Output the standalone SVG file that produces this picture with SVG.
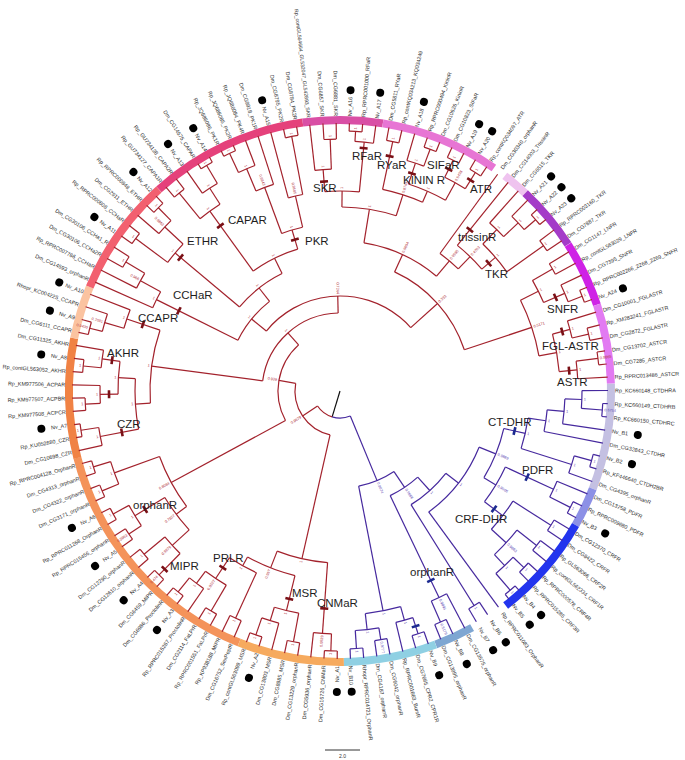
<svg xmlns="http://www.w3.org/2000/svg" width="685" height="760" viewBox="0 0 685 760">
<style>
.br{fill:none;stroke:#a3222c;stroke-width:1.2}
.bb{fill:none;stroke:#46299e;stroke-width:1.2}
.rg{fill:none;stroke-width:8}
.lv text{font-family:"Liberation Sans",Arial,sans-serif;font-size:5.4px;fill:#2b2b2b;dominant-baseline:central}
.f{text-anchor:end}
.lv circle{fill:#000}
.cl{font-family:"Liberation Sans",Arial,sans-serif;font-size:11.5px;fill:#1e1e1e}
.mr line{stroke:#7a1016;stroke-width:2.6}
.mb line{stroke:#1c2a90;stroke-width:2.6}
.sv text{font-family:"Liberation Sans",Arial,sans-serif;font-size:3.8px;fill:#b0303a;dominant-baseline:central}
.sb text{font-family:"Liberation Sans",Arial,sans-serif;font-size:3.8px;fill:#5b47b3;dominant-baseline:central}
</style>
<rect width="685" height="760" fill="#fff"/>
<g transform="translate(340 391)">
<g id="ring">
<circle class="rg" r="271" pathLength="360" stroke="#f6aa5e" stroke-dasharray="22.68 400" transform="rotate(89.18)"/>
<circle class="rg" r="271" pathLength="360" stroke="#f4935a" stroke-dasharray="53.86 400" transform="rotate(111.86)"/>
<circle class="rg" r="271" pathLength="360" stroke="#f08244" stroke-dasharray="25.51 400" transform="rotate(165.71)"/>
<circle class="rg" r="271" pathLength="360" stroke="#fbc3a0" stroke-dasharray="11.34 400" transform="rotate(191.23)"/>
<circle class="rg" r="271" pathLength="360" stroke="#f2606f" stroke-dasharray="25.51 400" transform="rotate(202.56)"/>
<circle class="rg" r="271" pathLength="360" stroke="#e5417b" stroke-dasharray="34.02 400" transform="rotate(228.08)"/>
<circle class="rg" r="271" pathLength="360" stroke="#d94fa5" stroke-dasharray="17.01 400" transform="rotate(262.09)"/>
<circle class="rg" r="271" pathLength="360" stroke="#e775d4" stroke-dasharray="25.51 400" transform="rotate(279.10)"/>
<circle class="rg" r="271" pathLength="360" stroke="#efc3ef" stroke-dasharray="5.67 400" transform="rotate(307.44)"/>
<circle class="rg" r="271" pathLength="360" stroke="#a43bc8" stroke-dasharray="14.17 400" transform="rotate(313.11)"/>
<circle class="rg" r="271" pathLength="360" stroke="#cf22e6" stroke-dasharray="14.17 400" transform="rotate(327.29)"/>
<circle class="rg" r="271" pathLength="360" stroke="#e27af2" stroke-dasharray="17.01 400" transform="rotate(341.46)"/>
<circle class="rg" r="271" pathLength="360" stroke="#c4c0e2" stroke-dasharray="22.68 400" transform="rotate(358.47)"/>
<circle class="rg" r="271" pathLength="360" stroke="#8c90e6" stroke-dasharray="8.50 400" transform="rotate(21.15)"/>
<circle class="rg" r="271" pathLength="360" stroke="#2234ee" stroke-dasharray="22.68 400" transform="rotate(29.65)"/>
<circle class="rg" r="271" pathLength="360" stroke="#7ea6d2" stroke-dasharray="8.50 400" transform="rotate(60.83)"/>
<circle class="rg" r="271" pathLength="360" stroke="#8fd0e3" stroke-dasharray="19.84 400" transform="rotate(69.34)"/>
</g>
<g id="connectors">
<line x1="0" x2="27" stroke="#111" stroke-width="1.2" transform="rotate(106.915)"/>
<g class="br">
<circle r="27" pathLength="360" stroke-dasharray="39.38 400" transform="rotate(106.915)"/>
<circle r="45" pathLength="360" stroke-dasharray="87.03 400" transform="rotate(102.78)"/>
<circle r="62" pathLength="360" stroke-dasharray="76.525 400" transform="rotate(151.55)"/>
<circle r="78" pathLength="360" stroke-dasharray="81.13 400" transform="rotate(187.51)"/>
<circle r="95" pathLength="360" stroke-dasharray="98.98 400" transform="rotate(219.15)"/>
<circle r="114" pathLength="360" stroke-dasharray="25.38 400" transform="rotate(206.46)"/>
<circle r="131" pathLength="360" stroke-dasharray="23.825 400" transform="rotate(219.93)"/>
<circle r="148" pathLength="360" stroke-dasharray="19.31 400" transform="rotate(234.1)"/>
<circle r="168" pathLength="360" stroke-dasharray="7.445 400" transform="rotate(249.69)"/>
<circle r="217" pathLength="360" stroke-dasharray="4.96 400" transform="rotate(247.21)"/>
<circle r="241" pathLength="360" stroke-dasharray="4.255 400" transform="rotate(245.085)"/>
<circle r="262" pathLength="360" stroke-dasharray="2.83 400" transform="rotate(243.67)"/>
<circle r="200" pathLength="360" stroke-dasharray="4.25 400" transform="rotate(255.01)"/>
<circle r="259" pathLength="360" stroke-dasharray="2.84 400" transform="rotate(257.84)"/>
<circle r="222" pathLength="360" stroke-dasharray="6.375 400" transform="rotate(230.915)"/>
<circle r="255" pathLength="360" stroke-dasharray="2.83 400" transform="rotate(229.50)"/>
<circle r="241" pathLength="360" stroke-dasharray="4.255 400" transform="rotate(235.16)"/>
<circle r="262" pathLength="360" stroke-dasharray="2.83 400" transform="rotate(238.00)"/>
<circle r="215" pathLength="360" stroke-dasharray="6.38 400" transform="rotate(216.74)"/>
<circle r="255" pathLength="360" stroke-dasharray="2.84 400" transform="rotate(215.32)"/>
<circle r="240" pathLength="360" stroke-dasharray="4.255 400" transform="rotate(220.99)"/>
<circle r="258" pathLength="360" stroke-dasharray="2.83 400" transform="rotate(223.83)"/>
<circle r="205" pathLength="360" stroke-dasharray="4.965 400" transform="rotate(203.98)"/>
<circle r="228" pathLength="360" stroke-dasharray="4.25 400" transform="rotate(206.82)"/>
<circle r="250" pathLength="360" stroke-dasharray="2.84 400" transform="rotate(209.65)"/>
<circle r="131" pathLength="360" stroke-dasharray="47.015 400" transform="rotate(294.625)"/>
<circle r="150" pathLength="360" stroke-dasharray="30.87 400" transform="rotate(279.19)"/>
<circle r="184" pathLength="360" stroke-dasharray="17.18 400" transform="rotate(270.6)"/>
<circle r="200" pathLength="360" stroke-dasharray="9.915 400" transform="rotate(265.64)"/>
<circle r="222" pathLength="360" stroke-dasharray="4.255 400" transform="rotate(263.51)"/>
<circle r="252" pathLength="360" stroke-dasharray="2.83 400" transform="rotate(266.35)"/>
<circle r="250" pathLength="360" stroke-dasharray="4.25 400" transform="rotate(273.43)"/>
<circle r="260" pathLength="360" stroke-dasharray="2.84 400" transform="rotate(272.01)"/>
<circle r="206" pathLength="360" stroke-dasharray="11.695 400" transform="rotate(281.935)"/>
<circle r="255" pathLength="360" stroke-dasharray="2.83 400" transform="rotate(280.52)"/>
<circle r="218" pathLength="360" stroke-dasharray="10.63 400" transform="rotate(288.315)"/>
<circle r="240" pathLength="360" stroke-dasharray="4.25 400" transform="rotate(286.19)"/>
<circle r="258" pathLength="360" stroke-dasharray="2.84 400" transform="rotate(289.02)"/>
<circle r="238" pathLength="360" stroke-dasharray="5.67 400" transform="rotate(296.11)"/>
<circle r="257" pathLength="360" stroke-dasharray="2.84 400" transform="rotate(294.69)"/>
<circle r="257" pathLength="360" stroke-dasharray="2.84 400" transform="rotate(300.36)"/>
<circle r="170" pathLength="360" stroke-dasharray="8.06 400" transform="rotate(306.03)"/>
<circle r="187" pathLength="360" stroke-dasharray="10.46 400" transform="rotate(308.86)"/>
<circle r="205" pathLength="360" stroke-dasharray="10.275 400" transform="rotate(314.18)"/>
<circle r="225" pathLength="360" stroke-dasharray="4.96 400" transform="rotate(311.70)"/>
<circle r="245" pathLength="360" stroke-dasharray="4.255 400" transform="rotate(314.53)"/>
<circle r="260" pathLength="360" stroke-dasharray="2.83 400" transform="rotate(317.37)"/>
<circle r="250" pathLength="360" stroke-dasharray="2.83 400" transform="rotate(323.04)"/>
<circle r="202" pathLength="360" stroke-dasharray="16.65 400" transform="rotate(333.315)"/>
<circle r="222" pathLength="360" stroke-dasharray="6.38 400" transform="rotate(330.125)"/>
<circle r="245" pathLength="360" stroke-dasharray="2.83 400" transform="rotate(328.71)"/>
<circle r="245" pathLength="360" stroke-dasharray="4.25 400" transform="rotate(334.38)"/>
<circle r="260" pathLength="360" stroke-dasharray="2.84 400" transform="rotate(337.21)"/>
<circle r="220" pathLength="360" stroke-dasharray="9.92 400" transform="rotate(345.005)"/>
<circle r="238" pathLength="360" stroke-dasharray="4.25 400" transform="rotate(342.88)"/>
<circle r="255" pathLength="360" stroke-dasharray="2.84 400" transform="rotate(345.71)"/>
<circle r="238" pathLength="360" stroke-dasharray="4.25 400" transform="rotate(352.8)"/>
<circle r="260" pathLength="360" stroke-dasharray="2.84 400" transform="rotate(351.38)"/>
<circle r="190" pathLength="360" stroke-dasharray="22.32 400" transform="rotate(176.35)"/>
<circle r="225" pathLength="360" stroke-dasharray="4.95 400" transform="rotate(196.2)"/>
<circle r="245" pathLength="360" stroke-dasharray="4.25 400" transform="rotate(194.07)"/>
<circle r="258" pathLength="360" stroke-dasharray="2.83 400" transform="rotate(192.65)"/>
<circle r="205" pathLength="360" stroke-dasharray="14.18 400" transform="rotate(169.26)"/>
<circle r="222" pathLength="360" stroke-dasharray="8.5 400" transform="rotate(179.19)"/>
<circle r="240" pathLength="360" stroke-dasharray="4.25 400" transform="rotate(185.56)"/>
<circle r="258" pathLength="360" stroke-dasharray="2.84 400" transform="rotate(184.14)"/>
<circle r="240" pathLength="360" stroke-dasharray="4.25 400" transform="rotate(177.06)"/>
<circle r="255" pathLength="360" stroke-dasharray="2.83 400" transform="rotate(175.64)"/>
<circle r="244" pathLength="360" stroke-dasharray="4.26 400" transform="rotate(167.13)"/>
<circle r="262" pathLength="360" stroke-dasharray="2.83 400" transform="rotate(169.97)"/>
<circle r="192" pathLength="360" stroke-dasharray="17.01 400" transform="rotate(143.04)"/>
<circle r="240" pathLength="360" stroke-dasharray="5.67 400" transform="rotate(157.215)"/>
<circle r="258" pathLength="360" stroke-dasharray="2.83 400" transform="rotate(155.80)"/>
<circle r="258" pathLength="360" stroke-dasharray="2.83 400" transform="rotate(161.47)"/>
<circle r="205" pathLength="360" stroke-dasharray="11.34 400" transform="rotate(137.37)"/>
<circle r="240" pathLength="360" stroke-dasharray="5.67 400" transform="rotate(145.875)"/>
<circle r="255" pathLength="360" stroke-dasharray="2.83 400" transform="rotate(144.46)"/>
<circle r="258" pathLength="360" stroke-dasharray="2.83 400" transform="rotate(150.13)"/>
<circle r="228" pathLength="360" stroke-dasharray="5.67 400" transform="rotate(134.535)"/>
<circle r="258" pathLength="360" stroke-dasharray="2.83 400" transform="rotate(133.12)"/>
<circle r="255" pathLength="360" stroke-dasharray="2.83 400" transform="rotate(138.79)"/>
<circle r="172" pathLength="360" stroke-dasharray="17.28 400" transform="rotate(94.14)"/>
<circle r="243" pathLength="360" stroke-dasharray="4.255 400" transform="rotate(92.015)"/>
<circle r="260" pathLength="360" stroke-dasharray="2.83 400" transform="rotate(90.60)"/>
<circle r="190" pathLength="360" stroke-dasharray="15.41 400" transform="rotate(103.71)"/>
<circle r="226" pathLength="360" stroke-dasharray="6.38 400" transform="rotate(100.52)"/>
<circle r="255" pathLength="360" stroke-dasharray="2.84 400" transform="rotate(99.10)"/>
<circle r="240" pathLength="360" stroke-dasharray="4.255 400" transform="rotate(104.77)"/>
<circle r="258" pathLength="360" stroke-dasharray="2.83 400" transform="rotate(107.61)"/>
<circle r="200" pathLength="360" stroke-dasharray="8.855 400" transform="rotate(114.695)"/>
<circle r="250" pathLength="360" stroke-dasharray="2.83 400" transform="rotate(113.28)"/>
<circle r="225" pathLength="360" stroke-dasharray="6.375 400" transform="rotate(120.365)"/>
<circle r="255" pathLength="360" stroke-dasharray="2.83 400" transform="rotate(118.95)"/>
<circle r="240" pathLength="360" stroke-dasharray="4.245 400" transform="rotate(124.62)"/>
<circle r="258" pathLength="360" stroke-dasharray="2.83 400" transform="rotate(127.45)"/>
<line x1="27" x2="45" transform="rotate(146.295)"/>
<line x1="45" x2="172" transform="rotate(102.78)"/>
<line x1="45" x2="62" transform="rotate(189.81)"/>
<line x1="62" x2="192" transform="rotate(151.55)"/>
<line x1="62" x2="78" transform="rotate(228.075)"/>
<line x1="78" x2="190" transform="rotate(187.51)"/>
<line x1="78" x2="95" transform="rotate(268.64)"/>
<line x1="95" x2="114" transform="rotate(219.15)"/>
<line x1="95" x2="131" transform="rotate(318.13)"/>
<line x1="114" x2="205" transform="rotate(206.46)"/>
<line x1="114" x2="131" transform="rotate(231.84)"/>
<line x1="131" x2="215" transform="rotate(219.93)"/>
<line x1="131" x2="148" transform="rotate(243.755)"/>
<line x1="148" x2="222" transform="rotate(234.1)"/>
<line x1="148" x2="168" transform="rotate(253.41)"/>
<line x1="168" x2="217" transform="rotate(249.69)"/>
<line x1="168" x2="200" transform="rotate(257.135)"/>
<line x1="217" x2="241" transform="rotate(247.21)"/>
<line x1="217" x2="268" transform="rotate(252.17)"/>
<line x1="241" x2="262" transform="rotate(245.085)"/>
<line x1="241" x2="268" transform="rotate(249.34)"/>
<line x1="262" x2="268" transform="rotate(243.67)"/>
<line x1="262" x2="268" transform="rotate(246.50)"/>
<line x1="200" x2="268" transform="rotate(255.01)"/>
<line x1="200" x2="259" transform="rotate(259.26)"/>
<line x1="259" x2="268" transform="rotate(257.84)"/>
<line x1="259" x2="268" transform="rotate(260.68)"/>
<line x1="222" x2="255" transform="rotate(230.915)"/>
<line x1="222" x2="241" transform="rotate(237.29)"/>
<line x1="255" x2="268" transform="rotate(229.50)"/>
<line x1="255" x2="268" transform="rotate(232.33)"/>
<line x1="241" x2="268" transform="rotate(235.16)"/>
<line x1="241" x2="262" transform="rotate(239.415)"/>
<line x1="262" x2="268" transform="rotate(238.00)"/>
<line x1="262" x2="268" transform="rotate(240.83)"/>
<line x1="215" x2="255" transform="rotate(216.74)"/>
<line x1="215" x2="240" transform="rotate(223.12)"/>
<line x1="255" x2="268" transform="rotate(215.32)"/>
<line x1="255" x2="268" transform="rotate(218.16)"/>
<line x1="240" x2="268" transform="rotate(220.99)"/>
<line x1="240" x2="258" transform="rotate(225.245)"/>
<line x1="258" x2="268" transform="rotate(223.83)"/>
<line x1="258" x2="268" transform="rotate(226.66)"/>
<line x1="205" x2="268" transform="rotate(203.98)"/>
<line x1="205" x2="228" transform="rotate(208.945)"/>
<line x1="228" x2="268" transform="rotate(206.82)"/>
<line x1="228" x2="250" transform="rotate(211.07)"/>
<line x1="250" x2="268" transform="rotate(209.65)"/>
<line x1="250" x2="268" transform="rotate(212.49)"/>
<line x1="131" x2="150" transform="rotate(294.625)"/>
<line x1="131" x2="202" transform="rotate(341.64)"/>
<line x1="150" x2="184" transform="rotate(279.19)"/>
<line x1="150" x2="170" transform="rotate(310.06)"/>
<line x1="184" x2="200" transform="rotate(270.6)"/>
<line x1="184" x2="206" transform="rotate(287.78)"/>
<line x1="200" x2="222" transform="rotate(265.64)"/>
<line x1="200" x2="250" transform="rotate(275.555)"/>
<line x1="222" x2="268" transform="rotate(263.51)"/>
<line x1="222" x2="252" transform="rotate(267.765)"/>
<line x1="252" x2="268" transform="rotate(266.35)"/>
<line x1="252" x2="268" transform="rotate(269.18)"/>
<line x1="250" x2="260" transform="rotate(273.43)"/>
<line x1="250" x2="268" transform="rotate(277.68)"/>
<line x1="260" x2="268" transform="rotate(272.01)"/>
<line x1="260" x2="268" transform="rotate(274.85)"/>
<line x1="206" x2="255" transform="rotate(281.935)"/>
<line x1="206" x2="218" transform="rotate(293.63)"/>
<line x1="255" x2="268" transform="rotate(280.52)"/>
<line x1="255" x2="268" transform="rotate(283.35)"/>
<line x1="218" x2="240" transform="rotate(288.315)"/>
<line x1="218" x2="238" transform="rotate(298.945)"/>
<line x1="240" x2="268" transform="rotate(286.19)"/>
<line x1="240" x2="258" transform="rotate(290.44)"/>
<line x1="258" x2="268" transform="rotate(289.02)"/>
<line x1="258" x2="268" transform="rotate(291.86)"/>
<line x1="238" x2="257" transform="rotate(296.11)"/>
<line x1="238" x2="257" transform="rotate(301.78)"/>
<line x1="257" x2="268" transform="rotate(294.69)"/>
<line x1="257" x2="268" transform="rotate(297.53)"/>
<line x1="257" x2="268" transform="rotate(300.36)"/>
<line x1="257" x2="268" transform="rotate(303.20)"/>
<line x1="170" x2="268" transform="rotate(306.03)"/>
<line x1="170" x2="187" transform="rotate(314.09)"/>
<line x1="187" x2="268" transform="rotate(308.86)"/>
<line x1="187" x2="205" transform="rotate(319.32)"/>
<line x1="205" x2="225" transform="rotate(314.18)"/>
<line x1="205" x2="250" transform="rotate(324.455)"/>
<line x1="225" x2="268" transform="rotate(311.70)"/>
<line x1="225" x2="245" transform="rotate(316.66)"/>
<line x1="245" x2="268" transform="rotate(314.53)"/>
<line x1="245" x2="260" transform="rotate(318.785)"/>
<line x1="260" x2="268" transform="rotate(317.37)"/>
<line x1="260" x2="268" transform="rotate(320.20)"/>
<line x1="250" x2="268" transform="rotate(323.04)"/>
<line x1="250" x2="268" transform="rotate(325.87)"/>
<line x1="202" x2="222" transform="rotate(333.315)"/>
<line x1="202" x2="220" transform="rotate(349.965)"/>
<line x1="222" x2="245" transform="rotate(330.125)"/>
<line x1="222" x2="245" transform="rotate(336.505)"/>
<line x1="245" x2="268" transform="rotate(328.71)"/>
<line x1="245" x2="268" transform="rotate(331.54)"/>
<line x1="245" x2="268" transform="rotate(334.38)"/>
<line x1="245" x2="260" transform="rotate(338.63)"/>
<line x1="260" x2="268" transform="rotate(337.21)"/>
<line x1="260" x2="268" transform="rotate(340.05)"/>
<line x1="220" x2="238" transform="rotate(345.005)"/>
<line x1="220" x2="238" transform="rotate(354.925)"/>
<line x1="238" x2="268" transform="rotate(342.88)"/>
<line x1="238" x2="255" transform="rotate(347.13)"/>
<line x1="255" x2="268" transform="rotate(345.71)"/>
<line x1="255" x2="268" transform="rotate(348.55)"/>
<line x1="238" x2="260" transform="rotate(352.8)"/>
<line x1="238" x2="268" transform="rotate(357.05)"/>
<line x1="260" x2="268" transform="rotate(351.38)"/>
<line x1="260" x2="268" transform="rotate(354.22)"/>
<line x1="190" x2="225" transform="rotate(198.67)"/>
<line x1="190" x2="205" transform="rotate(176.35)"/>
<line x1="225" x2="245" transform="rotate(196.2)"/>
<line x1="225" x2="268" transform="rotate(201.15)"/>
<line x1="245" x2="258" transform="rotate(194.07)"/>
<line x1="245" x2="268" transform="rotate(198.32)"/>
<line x1="258" x2="268" transform="rotate(192.65)"/>
<line x1="258" x2="268" transform="rotate(195.48)"/>
<line x1="205" x2="222" transform="rotate(183.44)"/>
<line x1="205" x2="244" transform="rotate(169.26)"/>
<line x1="222" x2="240" transform="rotate(187.69)"/>
<line x1="222" x2="240" transform="rotate(179.19)"/>
<line x1="240" x2="258" transform="rotate(185.56)"/>
<line x1="240" x2="268" transform="rotate(189.81)"/>
<line x1="258" x2="268" transform="rotate(184.14)"/>
<line x1="258" x2="268" transform="rotate(186.98)"/>
<line x1="240" x2="255" transform="rotate(177.06)"/>
<line x1="240" x2="268" transform="rotate(181.31)"/>
<line x1="255" x2="268" transform="rotate(175.64)"/>
<line x1="255" x2="268" transform="rotate(178.47)"/>
<line x1="244" x2="268" transform="rotate(167.13)"/>
<line x1="244" x2="262" transform="rotate(171.39)"/>
<line x1="262" x2="268" transform="rotate(169.97)"/>
<line x1="262" x2="268" transform="rotate(172.80)"/>
<line x1="192" x2="240" transform="rotate(160.05)"/>
<line x1="192" x2="205" transform="rotate(143.04)"/>
<line x1="240" x2="258" transform="rotate(157.215)"/>
<line x1="240" x2="258" transform="rotate(162.885)"/>
<line x1="258" x2="268" transform="rotate(155.80)"/>
<line x1="258" x2="268" transform="rotate(158.63)"/>
<line x1="258" x2="268" transform="rotate(161.47)"/>
<line x1="258" x2="268" transform="rotate(164.30)"/>
<line x1="205" x2="240" transform="rotate(148.71)"/>
<line x1="205" x2="228" transform="rotate(137.37)"/>
<line x1="240" x2="255" transform="rotate(145.875)"/>
<line x1="240" x2="258" transform="rotate(151.545)"/>
<line x1="255" x2="268" transform="rotate(144.46)"/>
<line x1="255" x2="268" transform="rotate(147.29)"/>
<line x1="258" x2="268" transform="rotate(150.13)"/>
<line x1="258" x2="268" transform="rotate(152.96)"/>
<line x1="228" x2="258" transform="rotate(134.535)"/>
<line x1="228" x2="255" transform="rotate(140.205)"/>
<line x1="258" x2="268" transform="rotate(133.12)"/>
<line x1="258" x2="268" transform="rotate(135.95)"/>
<line x1="255" x2="268" transform="rotate(138.79)"/>
<line x1="255" x2="268" transform="rotate(141.62)"/>
<line x1="172" x2="243" transform="rotate(94.14)"/>
<line x1="172" x2="190" transform="rotate(111.42)"/>
<line x1="243" x2="260" transform="rotate(92.015)"/>
<line x1="243" x2="268" transform="rotate(96.27)"/>
<line x1="260" x2="268" transform="rotate(90.60)"/>
<line x1="260" x2="268" transform="rotate(93.43)"/>
<line x1="190" x2="226" transform="rotate(103.71)"/>
<line x1="190" x2="200" transform="rotate(119.12)"/>
<line x1="226" x2="255" transform="rotate(100.52)"/>
<line x1="226" x2="240" transform="rotate(106.9)"/>
<line x1="255" x2="268" transform="rotate(99.10)"/>
<line x1="255" x2="268" transform="rotate(101.94)"/>
<line x1="240" x2="268" transform="rotate(104.77)"/>
<line x1="240" x2="258" transform="rotate(109.025)"/>
<line x1="258" x2="268" transform="rotate(107.61)"/>
<line x1="258" x2="268" transform="rotate(110.44)"/>
<line x1="200" x2="250" transform="rotate(114.695)"/>
<line x1="200" x2="225" transform="rotate(123.55)"/>
<line x1="250" x2="268" transform="rotate(113.28)"/>
<line x1="250" x2="268" transform="rotate(116.11)"/>
<line x1="225" x2="255" transform="rotate(120.365)"/>
<line x1="225" x2="240" transform="rotate(126.74)"/>
<line x1="255" x2="268" transform="rotate(118.95)"/>
<line x1="255" x2="268" transform="rotate(121.78)"/>
<line x1="240" x2="268" transform="rotate(124.62)"/>
<line x1="240" x2="258" transform="rotate(128.865)"/>
<line x1="258" x2="268" transform="rotate(127.45)"/>
<line x1="258" x2="268" transform="rotate(130.28)"/>
</g>
<g class="bb">
<circle r="27" pathLength="360" stroke-dasharray="39.38 400" transform="rotate(67.535)"/>
<circle r="97" pathLength="360" stroke-dasharray="22.75 400" transform="rotate(56.16)"/>
<circle r="224" pathLength="360" stroke-dasharray="9.215 400" transform="rotate(74.3)"/>
<circle r="240" pathLength="360" stroke-dasharray="5.67 400" transform="rotate(80.68)"/>
<circle r="258" pathLength="360" stroke-dasharray="2.84 400" transform="rotate(84.93)"/>
<circle r="252" pathLength="360" stroke-dasharray="2.84 400" transform="rotate(79.26)"/>
<circle r="238" pathLength="360" stroke-dasharray="4.255 400" transform="rotate(72.175)"/>
<circle r="255" pathLength="360" stroke-dasharray="2.83 400" transform="rotate(70.76)"/>
<circle r="116" pathLength="360" stroke-dasharray="16.44 400" transform="rotate(47.94)"/>
<circle r="229" pathLength="360" stroke-dasharray="4.255 400" transform="rotate(62.25)"/>
<circle r="252" pathLength="360" stroke-dasharray="2.83 400" transform="rotate(65.09)"/>
<circle r="134" pathLength="360" stroke-dasharray="20.13 400" transform="rotate(37.87)"/>
<circle r="253" pathLength="360" stroke-dasharray="2.84 400" transform="rotate(56.58)"/>
<circle r="150" pathLength="360" stroke-dasharray="31.76 400" transform="rotate(21.99)"/>
<circle r="168" pathLength="360" stroke-dasharray="18.16 400" transform="rotate(12.91)"/>
<circle r="190" pathLength="360" stroke-dasharray="9.39 400" transform="rotate(8.215)"/>
<circle r="208" pathLength="360" stroke-dasharray="6.03 400" transform="rotate(5.2)"/>
<circle r="225" pathLength="360" stroke-dasharray="6.375 400" transform="rotate(2.015)"/>
<circle r="242" pathLength="360" stroke-dasharray="4.25 400" transform="rotate(-0.11)"/>
<circle r="263" pathLength="360" stroke-dasharray="2.84 400" transform="rotate(2.72)"/>
<circle r="243" pathLength="360" stroke-dasharray="4.25 400" transform="rotate(15.48)"/>
<circle r="261" pathLength="360" stroke-dasharray="2.84 400" transform="rotate(14.06)"/>
<circle r="182" pathLength="360" stroke-dasharray="12.755 400" transform="rotate(24.695)"/>
<circle r="235" pathLength="360" stroke-dasharray="4.25 400" transform="rotate(22.57)"/>
<circle r="258" pathLength="360" stroke-dasharray="2.84 400" transform="rotate(25.40)"/>
<circle r="205" pathLength="360" stroke-dasharray="9.92 400" transform="rotate(32.49)"/>
<circle r="250" pathLength="360" stroke-dasharray="2.84 400" transform="rotate(31.07)"/>
<circle r="225" pathLength="360" stroke-dasharray="8.505 400" transform="rotate(38.16)"/>
<circle r="250" pathLength="360" stroke-dasharray="2.84 400" transform="rotate(36.74)"/>
<circle r="240" pathLength="360" stroke-dasharray="5.67 400" transform="rotate(43.83)"/>
<circle r="255" pathLength="360" stroke-dasharray="2.84 400" transform="rotate(42.41)"/>
<circle r="262" pathLength="360" stroke-dasharray="2.84 400" transform="rotate(48.08)"/>
<line x1="27" x2="97" transform="rotate(67.535)"/>
<line x1="97" x2="224" transform="rotate(78.91)"/>
<line x1="97" x2="116" transform="rotate(56.16)"/>
<line x1="224" x2="240" transform="rotate(83.515)"/>
<line x1="224" x2="238" transform="rotate(74.3)"/>
<line x1="240" x2="258" transform="rotate(86.35)"/>
<line x1="240" x2="252" transform="rotate(80.68)"/>
<line x1="258" x2="268" transform="rotate(84.93)"/>
<line x1="258" x2="268" transform="rotate(87.77)"/>
<line x1="252" x2="268" transform="rotate(79.26)"/>
<line x1="252" x2="268" transform="rotate(82.10)"/>
<line x1="238" x2="268" transform="rotate(76.43)"/>
<line x1="238" x2="255" transform="rotate(72.175)"/>
<line x1="255" x2="268" transform="rotate(70.76)"/>
<line x1="255" x2="268" transform="rotate(73.59)"/>
<line x1="116" x2="229" transform="rotate(64.38)"/>
<line x1="116" x2="134" transform="rotate(47.94)"/>
<line x1="229" x2="268" transform="rotate(62.25)"/>
<line x1="229" x2="252" transform="rotate(66.505)"/>
<line x1="252" x2="268" transform="rotate(65.09)"/>
<line x1="252" x2="268" transform="rotate(67.92)"/>
<line x1="134" x2="253" transform="rotate(58.0)"/>
<line x1="134" x2="150" transform="rotate(37.87)"/>
<line x1="253" x2="268" transform="rotate(56.58)"/>
<line x1="253" x2="268" transform="rotate(59.42)"/>
<line x1="150" x2="168" transform="rotate(21.99)"/>
<line x1="150" x2="268" transform="rotate(53.75)"/>
<line x1="168" x2="190" transform="rotate(12.91)"/>
<line x1="168" x2="182" transform="rotate(31.07)"/>
<line x1="190" x2="208" transform="rotate(8.215)"/>
<line x1="190" x2="243" transform="rotate(17.605)"/>
<line x1="208" x2="225" transform="rotate(5.2)"/>
<line x1="208" x2="268" transform="rotate(11.23)"/>
<line x1="225" x2="242" transform="rotate(2.015)"/>
<line x1="225" x2="268" transform="rotate(8.39)"/>
<line x1="242" x2="268" transform="rotate(-0.11)"/>
<line x1="242" x2="263" transform="rotate(4.14)"/>
<line x1="263" x2="268" transform="rotate(2.72)"/>
<line x1="263" x2="268" transform="rotate(5.56)"/>
<line x1="243" x2="261" transform="rotate(15.48)"/>
<line x1="243" x2="268" transform="rotate(19.73)"/>
<line x1="261" x2="268" transform="rotate(14.06)"/>
<line x1="261" x2="268" transform="rotate(16.90)"/>
<line x1="182" x2="235" transform="rotate(24.695)"/>
<line x1="182" x2="205" transform="rotate(37.45)"/>
<line x1="235" x2="268" transform="rotate(22.57)"/>
<line x1="235" x2="258" transform="rotate(26.82)"/>
<line x1="258" x2="268" transform="rotate(25.40)"/>
<line x1="258" x2="268" transform="rotate(28.24)"/>
<line x1="205" x2="250" transform="rotate(32.49)"/>
<line x1="205" x2="225" transform="rotate(42.41)"/>
<line x1="250" x2="268" transform="rotate(31.07)"/>
<line x1="250" x2="268" transform="rotate(33.91)"/>
<line x1="225" x2="250" transform="rotate(38.16)"/>
<line x1="225" x2="240" transform="rotate(46.665)"/>
<line x1="250" x2="268" transform="rotate(36.74)"/>
<line x1="250" x2="268" transform="rotate(39.58)"/>
<line x1="240" x2="255" transform="rotate(43.83)"/>
<line x1="240" x2="262" transform="rotate(49.5)"/>
<line x1="255" x2="268" transform="rotate(42.41)"/>
<line x1="255" x2="268" transform="rotate(45.25)"/>
<line x1="262" x2="268" transform="rotate(48.08)"/>
<line x1="262" x2="268" transform="rotate(50.92)"/>
</g>
</g>
<g id="support-red" class="sv">
<text transform="rotate(326.295)" x="-47" class="f">0.9679</text>
<text transform="rotate(9.81)" x="-64" class="f">0.939</text>
<text transform="rotate(48.075)" x="-80" class="f">1</text>
<text transform="rotate(88.64)" x="-97" class="f">0.7244</text>
<text transform="rotate(39.15)" x="-116" class="f">1</text>
<text transform="rotate(51.84)" x="-133" class="f">1</text>
<text transform="rotate(63.755)" x="-150" class="f">1</text>
<text transform="rotate(73.41)" x="-170" class="f">1</text>
<text transform="rotate(69.69)" x="-219" class="f">0.9843</text>
<text transform="rotate(67.21)" x="-243" class="f">1</text>
<text transform="rotate(65.085)" x="-264" class="f">1</text>
<text transform="rotate(77.135)" x="-202" class="f">0.9685</text>
<text transform="rotate(79.26)" x="-261" class="f">1</text>
<text transform="rotate(54.1)" x="-224" class="f">1</text>
<text transform="rotate(50.915)" x="-257" class="f">1</text>
<text transform="rotate(57.29)" x="-243" class="f">1</text>
<text transform="rotate(59.415)" x="-264" class="f">1</text>
<text transform="rotate(39.93)" x="-217" class="f">1</text>
<text transform="rotate(36.74)" x="-257" class="f">1</text>
<text transform="rotate(43.12)" x="-242" class="f">0.9863</text>
<text transform="rotate(45.245)" x="-260" class="f">1</text>
<text transform="rotate(26.46)" x="-207" class="f">1</text>
<text transform="rotate(28.945)" x="-230" class="f">0.966</text>
<text transform="rotate(31.07)" x="-252" class="f">1</text>
<text transform="rotate(318.13)" x="133">0.333</text>
<text transform="rotate(294.625)" x="152">0.8654</text>
<text transform="rotate(279.19)" x="186">1</text>
<text transform="rotate(270.6)" x="202">1</text>
<text transform="rotate(85.64)" x="-224" class="f">1</text>
<text transform="rotate(87.765)" x="-254" class="f">1</text>
<text transform="rotate(275.555)" x="252">1</text>
<text transform="rotate(273.43)" x="262">1</text>
<text transform="rotate(287.78)" x="208">0.8749</text>
<text transform="rotate(281.935)" x="257">1</text>
<text transform="rotate(293.63)" x="220">1</text>
<text transform="rotate(288.315)" x="242">1</text>
<text transform="rotate(290.44)" x="260">1</text>
<text transform="rotate(298.945)" x="240">0.5438</text>
<text transform="rotate(296.11)" x="259">1</text>
<text transform="rotate(301.78)" x="259">1</text>
<text transform="rotate(310.06)" x="172">0.9985</text>
<text transform="rotate(314.09)" x="189">0.4703</text>
<text transform="rotate(319.32)" x="207">1</text>
<text transform="rotate(314.18)" x="227">1</text>
<text transform="rotate(316.66)" x="247">1</text>
<text transform="rotate(318.785)" x="262">1</text>
<text transform="rotate(324.455)" x="252">1</text>
<text transform="rotate(341.64)" x="204">0.5171</text>
<text transform="rotate(333.315)" x="224">1</text>
<text transform="rotate(330.125)" x="247">1</text>
<text transform="rotate(336.505)" x="247">1</text>
<text transform="rotate(338.63)" x="262">1</text>
<text transform="rotate(349.965)" x="222">1</text>
<text transform="rotate(345.005)" x="240">1</text>
<text transform="rotate(347.13)" x="257">1</text>
<text transform="rotate(354.925)" x="240">1</text>
<text transform="rotate(352.8)" x="262">0.9865</text>
<text transform="rotate(7.51)" x="-192" class="f">1</text>
<text transform="rotate(18.67)" x="-227" class="f">1</text>
<text transform="rotate(16.2)" x="-247" class="f">0.7081</text>
<text transform="rotate(14.07)" x="-260" class="f">0.9439</text>
<text transform="rotate(-3.65)" x="-207" class="f">1</text>
<text transform="rotate(3.44)" x="-224" class="f">1</text>
<text transform="rotate(7.69)" x="-242" class="f">1</text>
<text transform="rotate(5.56)" x="-260" class="f">1</text>
<text transform="rotate(-0.81)" x="-242" class="f">1</text>
<text transform="rotate(-2.94)" x="-257" class="f">1</text>
<text transform="rotate(-10.74)" x="-246" class="f">1</text>
<text transform="rotate(-8.61)" x="-264" class="f">1</text>
<text transform="rotate(-28.45)" x="-194" class="f">0.8084</text>
<text transform="rotate(-19.95)" x="-242" class="f">1</text>
<text transform="rotate(-22.785)" x="-260" class="f">1</text>
<text transform="rotate(-17.115)" x="-260" class="f">1</text>
<text transform="rotate(-36.96)" x="-207" class="f">0.7827</text>
<text transform="rotate(-31.29)" x="-242" class="f">1</text>
<text transform="rotate(-34.125)" x="-257" class="f">0.5963</text>
<text transform="rotate(-28.455)" x="-260" class="f">1</text>
<text transform="rotate(-42.63)" x="-230" class="f">0.9879</text>
<text transform="rotate(-45.465)" x="-260" class="f">0.474</text>
<text transform="rotate(-39.795)" x="-257" class="f">1</text>
<text transform="rotate(-77.22)" x="-174" class="f">1</text>
<text transform="rotate(-85.86)" x="-245" class="f">0.9829</text>
<text transform="rotate(-87.985)" x="-262" class="f">1</text>
<text transform="rotate(-68.58)" x="-192" class="f">0.967</text>
<text transform="rotate(-76.29)" x="-228" class="f">1</text>
<text transform="rotate(-79.48)" x="-257" class="f">1</text>
<text transform="rotate(-73.1)" x="-242" class="f">1</text>
<text transform="rotate(-70.975)" x="-260" class="f">1</text>
<text transform="rotate(-60.88)" x="-202" class="f">1</text>
<text transform="rotate(-65.305)" x="-252" class="f">1</text>
<text transform="rotate(-56.45)" x="-227" class="f">0.8327</text>
<text transform="rotate(-59.635)" x="-257" class="f">1</text>
<text transform="rotate(-53.26)" x="-242" class="f">1</text>
<text transform="rotate(-51.135)" x="-260" class="f">1</text>
</g>
<g id="support-blue" class="sb">
<text transform="rotate(67.535)" x="99">0.9874</text>
<text transform="rotate(78.91)" x="226">1</text>
<text transform="rotate(83.515)" x="242">1</text>
<text transform="rotate(86.35)" x="260">1</text>
<text transform="rotate(80.68)" x="254">0.9777</text>
<text transform="rotate(74.3)" x="240">1</text>
<text transform="rotate(72.175)" x="257">1</text>
<text transform="rotate(56.16)" x="118">0.9868</text>
<text transform="rotate(64.38)" x="231">0.9895</text>
<text transform="rotate(66.505)" x="254">0.5179</text>
<text transform="rotate(47.94)" x="136">1</text>
<text transform="rotate(58.0)" x="255">1</text>
<text transform="rotate(37.87)" x="152">1</text>
<text transform="rotate(21.99)" x="170">0.9889</text>
<text transform="rotate(12.91)" x="192">1</text>
<text transform="rotate(8.215)" x="210">1</text>
<text transform="rotate(5.2)" x="227">1</text>
<text transform="rotate(2.015)" x="244">1</text>
<text transform="rotate(4.14)" x="265">0.6754</text>
<text transform="rotate(17.605)" x="245">1</text>
<text transform="rotate(15.48)" x="263">1</text>
<text transform="rotate(31.07)" x="184">0.9506</text>
<text transform="rotate(24.695)" x="237">1</text>
<text transform="rotate(26.82)" x="260">1</text>
<text transform="rotate(37.45)" x="207">1</text>
<text transform="rotate(32.49)" x="252">1</text>
<text transform="rotate(42.41)" x="227">0.9863</text>
<text transform="rotate(38.16)" x="252">1</text>
<text transform="rotate(46.665)" x="242">1</text>
<text transform="rotate(43.83)" x="257">1</text>
<text transform="rotate(49.5)" x="264">1</text>
</g>
<g id="marks" class="mr">
<line x1="218" x2="218" y1="-4" y2="4" transform="rotate(94.14)"/>
<line x1="214" x2="214" y1="-4" y2="4" transform="rotate(103.71)"/>
<line x1="212" x2="212" y1="-4" y2="4" transform="rotate(123.55)"/>
<line x1="250" x2="250" y1="-4" y2="4" transform="rotate(134.535)"/>
<line x1="228" x2="228" y1="-4" y2="4" transform="rotate(148.71)"/>
<line x1="222" x2="222" y1="-4" y2="4" transform="rotate(169.26)"/>
<line x1="231" x2="231" y1="-4" y2="4" transform="rotate(179.19)"/>
<line x1="230" x2="230" y1="-4" y2="4" transform="rotate(187.69)"/>
<line x1="208" x2="208" y1="-4" y2="4" transform="rotate(198.67)"/>
<line x1="180" x2="180" y1="-4" y2="4" transform="rotate(206.46)"/>
<line x1="208" x2="208" y1="-4" y2="4" transform="rotate(219.93)"/>
<line x1="204" x2="204" y1="-4" y2="4" transform="rotate(234.1)"/>
<line x1="158" x2="158" y1="-4" y2="4" transform="rotate(253.41)"/>
<line x1="210" x2="210" y1="-4" y2="4" transform="rotate(265.64)"/>
<line x1="244" x2="244" y1="-4" y2="4" transform="rotate(275.555)"/>
<line x1="240" x2="240" y1="-4" y2="4" transform="rotate(281.935)"/>
<line x1="229" x2="229" y1="-4" y2="4" transform="rotate(288.315)"/>
<line x1="247" x2="247" y1="-4" y2="4" transform="rotate(296.11)"/>
<line x1="248" x2="248" y1="-4" y2="4" transform="rotate(301.78)"/>
<line x1="207" x2="207" y1="-4" y2="4" transform="rotate(308.86)"/>
<line x1="196" x2="196" y1="-4" y2="4" transform="rotate(319.32)"/>
<line x1="235" x2="235" y1="-4" y2="4" transform="rotate(336.505)"/>
<line x1="230" x2="230" y1="-4" y2="4" transform="rotate(345.005)"/>
<line x1="230" x2="230" y1="-4" y2="4" transform="rotate(354.925)"/>
</g>
<g id="marks-b" class="mb">
<line x1="179" x2="179" y1="-4" y2="4" transform="rotate(12.91)"/>
<line x1="206" x2="206" y1="-4" y2="4" transform="rotate(24.695)"/>
<line x1="194" x2="194" y1="-4" y2="4" transform="rotate(37.45)"/>
<line x1="210" x2="210" y1="-4" y2="4" transform="rotate(64.38)"/>
<line x1="247" x2="247" y1="-4" y2="4" transform="rotate(72.175)"/>
</g>
<g class="lv">
<g id="n1" transform="rotate(270.60)"><text x="-275" class="f">Nv_A1</text><circle cx="-301" r="4"/></g>
<g id="n2" transform="rotate(273.43)"><text x="-275" class="f">Dm_CG16726_CNMaR</text></g>
<g id="n3" transform="rotate(276.27)"><text x="-275" class="f">Dm_CG5936_orphanR</text></g>
<g id="n4" transform="rotate(279.10)"><text x="-275" class="f">Dm_CG13229_orphanR</text></g>
<g id="n5" transform="rotate(281.94)"><text x="-275" class="f">Dm_CG8985_MSR</text></g>
<g id="n6" transform="rotate(284.77)"><text x="-275" class="f">Dm_CG13803_MSR</text></g>
<g id="n7" transform="rotate(287.61)"><text x="-275" class="f">Nv_A2</text><circle cx="-301" r="4"/></g>
<g id="n8" transform="rotate(290.44)"><text x="-275" class="f">Rp_contGL563099_MSR</text></g>
<g id="n9" transform="rotate(293.28)"><text x="-275" class="f">Dm_CG16752_SexPeptR</text></g>
<g id="n10" transform="rotate(296.11)"><text x="-275" class="f">Rp_KP938188_MIPR</text></g>
<g id="n11" transform="rotate(298.95)"><text x="-275" class="f">Rp_RPRC001551_FaLPrR</text></g>
<g id="n12" transform="rotate(301.78)"><text x="-275" class="f">Dm_CG2114_FaLPrR</text></g>
<g id="n13" transform="rotate(304.62)"><text x="-275" class="f">Rp_RPRC015267_ProctolinR</text></g>
<g id="n14" transform="rotate(307.45)"><text x="-275" class="f">Nv_A3</text><circle cx="-301" r="4"/></g>
<g id="n15" transform="rotate(310.28)"><text x="-275" class="f">Dm_CG6986_ProctolinR</text></g>
<g id="n16" transform="rotate(313.12)"><text x="-275" class="f">Dm_CG6459_MIPR</text></g>
<g id="n17" transform="rotate(315.95)"><text x="-275" class="f">Nv_A4</text><circle cx="-301" r="4"/></g>
<g id="n18" transform="rotate(318.79)"><text x="-275" class="f">Dm_CG12610_orphanR</text></g>
<g id="n19" transform="rotate(321.62)"><text x="-275" class="f">Dm_CG12290_orphanR</text></g>
<g id="n20" transform="rotate(324.46)"><text x="-275" class="f">Nv_A5</text><circle cx="-301" r="4"/></g>
<g id="n21" transform="rotate(327.29)"><text x="-275" class="f">Rp_RPRC015456_orphanR</text></g>
<g id="n22" transform="rotate(330.13)"><text x="-275" class="f">Rp_RPRC011268_OrphanR</text></g>
<g id="n23" transform="rotate(332.96)"><text x="-275" class="f">Nv_A6</text><circle cx="-301" r="4"/></g>
<g id="n24" transform="rotate(335.80)"><text x="-275" class="f">Dm_CG3171_orphanR</text></g>
<g id="n25" transform="rotate(338.63)"><text x="-275" class="f">Dm_CG4322_orphanR</text></g>
<g id="n26" transform="rotate(341.47)"><text x="-275" class="f">Dm_CG4313_orphanR</text></g>
<g id="n27" transform="rotate(344.30)"><text x="-275" class="f">Rp_RPRC004128_OrphanR</text></g>
<g id="n28" transform="rotate(347.13)"><text x="-275" class="f">Dm_CG10698_CZR</text></g>
<g id="n29" transform="rotate(349.97)"><text x="-275" class="f">Rp_KU052880_CZR</text></g>
<g id="n30" transform="rotate(352.80)"><text x="-275" class="f">Nv_A7</text><circle cx="-301" r="4"/></g>
<g id="n31" transform="rotate(355.64)"><text x="-275" class="f">Rp_KM977508_ACPCR</text></g>
<g id="n32" transform="rotate(358.47)"><text x="-275" class="f">Rp_KM977507_ACPBR</text></g>
<g id="n33" transform="rotate(1.31)"><text x="-275" class="f">Rp_KM977506_ACPAR</text></g>
<g id="n34" transform="rotate(4.14)"><text x="-275" class="f">Rp_contGL563052_AKHR</text></g>
<g id="n35" transform="rotate(6.98)"><text x="-275" class="f">Nv_A8</text><circle cx="-301" r="4"/></g>
<g id="n36" transform="rotate(9.81)"><text x="-275" class="f">Dm_CG11325_AKHR</text></g>
<g id="n37" transform="rotate(12.65)"><text x="-275" class="f">Dm_CG6111_CCAPR</text></g>
<g id="n38" transform="rotate(15.48)"><text x="-275" class="f">Nv_A9</text><circle cx="-301" r="4"/></g>
<g id="n39" transform="rotate(18.32)"><text x="-275" class="f">Rhopr_KC004225_CCAPR</text></g>
<g id="n40" transform="rotate(21.15)"><text x="-275" class="f">Nv_A10</text><circle cx="-301" r="4"/></g>
<g id="n41" transform="rotate(23.98)"><text x="-275" class="f">Dm_CG14593_orphanR</text></g>
<g id="n42" transform="rotate(26.82)"><text x="-275" class="f">Rp_RPRC007766_CCHaR</text></g>
<g id="n43" transform="rotate(29.65)"><text x="-275" class="f">Dm_CG30106_CCHa2R</text></g>
<g id="n44" transform="rotate(32.49)"><text x="-275" class="f">Dm_CG30106_CCHa1_R</text></g>
<g id="n45" transform="rotate(35.32)"><text x="-275" class="f">Nv_A11</text><circle cx="-301" r="4"/></g>
<g id="n46" transform="rotate(38.16)"><text x="-275" class="f">Rp_RPRC000608_CCHaR</text></g>
<g id="n47" transform="rotate(40.99)"><text x="-275" class="f">Dm_CG2911_ETHR</text></g>
<g id="n48" transform="rotate(43.83)"><text x="-275" class="f">Rp_RPRC000848_ETHR</text></g>
<g id="n49" transform="rotate(46.66)"><text x="-275" class="f">Nv_A12</text><circle cx="-301" r="4"/></g>
<g id="n50" transform="rotate(49.50)"><text x="-275" class="f">Rp_GU734127_CAPA1R</text></g>
<g id="n51" transform="rotate(52.33)"><text x="-275" class="f">Rp_GU734128_CAPA2R</text></g>
<g id="n52" transform="rotate(55.16)"><text x="-275" class="f">Nv_A13</text><circle cx="-301" r="4"/></g>
<g id="n53" transform="rotate(58.00)"><text x="-275" class="f">Dm_CG14575_CAPAR</text></g>
<g id="n54" transform="rotate(60.83)"><text x="-275" class="f">Nv_A14</text><circle cx="-301" r="4"/></g>
<g id="n55" transform="rotate(63.67)"><text x="-275" class="f">Rp_JQ686086_PK1R</text></g>
<g id="n56" transform="rotate(66.50)"><text x="-275" class="f">Rp_JQ686085_PK2R</text></g>
<g id="n57" transform="rotate(69.34)"><text x="-275" class="f">Rp_JQ686084_PK4R</text></g>
<g id="n58" transform="rotate(72.17)"><text x="-275" class="f">Dm_CG9918_PK1R</text></g>
<g id="n59" transform="rotate(75.01)"><text x="-275" class="f">Nv_A15</text><circle cx="-301" r="4"/></g>
<g id="n60" transform="rotate(77.84)"><text x="-275" class="f">Dm_CG8795_PK2R</text></g>
<g id="n61" transform="rotate(80.68)"><text x="-275" class="f">Dm_CG8784_PK2R</text></g>
<g id="n62" transform="rotate(83.51)"><text x="-275" class="f" style="font-size:5.1px">Rp_contGL564664_GL532047_GL542893_SKR</text></g>
<g id="n63" transform="rotate(86.35)"><text x="-275" class="f">Dm_CG6857_SKR</text></g>
<g id="n64" transform="rotate(89.18)"><text x="-275" class="f">Dm_CG6881_SKR</text></g>
<g id="n65" transform="rotate(272.01)"><text x="275">Nv_A16</text><circle cx="301" r="4"/></g>
<g id="n66" transform="rotate(274.85)"><text x="275">Rp_RPRC001000_RFaR</text></g>
<g id="n67" transform="rotate(277.68)"><text x="275">Nv_A17</text><circle cx="301" r="4"/></g>
<g id="n68" transform="rotate(280.52)"><text x="275">Dm_CG5811_RYaR</text></g>
<g id="n69" transform="rotate(283.35)"><text x="275">Rp_contKQ034213_KQ034249</text></g>
<g id="n70" transform="rotate(286.19)"><text x="275">Nv_A18</text><circle cx="301" r="4"/></g>
<g id="n71" transform="rotate(289.02)"><text x="275">Rp_RPRC000494_KininR</text></g>
<g id="n72" transform="rotate(291.86)"><text x="275">Dm_CG10626_KininR</text></g>
<g id="n73" transform="rotate(294.69)"><text x="275">Dm_CG10823_SIFaR</text></g>
<g id="n74" transform="rotate(297.53)"><text x="275">Nv_A19</text><circle cx="301" r="4"/></g>
<g id="n75" transform="rotate(300.36)"><text x="275">Nv_A20</text><circle cx="301" r="4"/></g>
<g id="n76" transform="rotate(303.20)"><text x="275">Rp_contKQ034097_ATR</text></g>
<g id="n77" transform="rotate(306.03)"><text x="275">Dm_CG30340_orphanR</text></g>
<g id="n78" transform="rotate(308.86)"><text x="275">Dm_CG14003_TrissinR</text></g>
<g id="n79" transform="rotate(311.70)"><text x="275">Dm_CG6515_TKR</text></g>
<g id="n80" transform="rotate(314.53)"><text x="275">Nv_A21</text><circle cx="301" r="4"/></g>
<g id="n81" transform="rotate(317.37)"><text x="275">Nv_A22</text><circle cx="301" r="4"/></g>
<g id="n82" transform="rotate(320.20)"><text x="275">Nv_A23</text><circle cx="301" r="4"/></g>
<g id="n83" transform="rotate(323.04)"><text x="275">Rp_RPRC003160_TKR</text></g>
<g id="n84" transform="rotate(325.87)"><text x="275">Dm_CG7887_TKR</text></g>
<g id="n85" transform="rotate(328.71)"><text x="275">Dm_CG1147_LNFR</text></g>
<g id="n86" transform="rotate(331.54)"><text x="275">Rp_contGL563029_LNFR</text></g>
<g id="n87" transform="rotate(334.38)"><text x="275">Dm_CG7395_SNFR</text></g>
<g id="n88" transform="rotate(337.21)"><text x="275">Rp_RPRC002266_2268_2269_SNFR</text></g>
<g id="n89" transform="rotate(340.05)"><text x="275">Nv_A24</text><circle cx="301" r="4"/></g>
<g id="n90" transform="rotate(342.88)"><text x="275">Dm_CG10001_FGLASTR</text></g>
<g id="n91" transform="rotate(345.71)"><text x="275">Rp_XM283241_FGLASTR</text></g>
<g id="n92" transform="rotate(348.55)"><text x="275">Dm_CG2872_FGLASTR</text></g>
<g id="n93" transform="rotate(351.38)"><text x="275">Dm_CG13702_ASTCR</text></g>
<g id="n94" transform="rotate(354.22)"><text x="275">Dm_CG7285_ASTCR</text></g>
<g id="n95" transform="rotate(357.05)"><text x="275">Rp_RPRC013486_ASTCR</text></g>
<g id="n96" transform="rotate(-0.11)"><text x="275">Rp_KC660148_CTDHRA</text></g>
<g id="n97" transform="rotate(2.72)"><text x="275">Rp_KC660149_CTDHRB</text></g>
<g id="n98" transform="rotate(5.56)"><text x="275">Rp_KC660150_CTDHRC</text></g>
<g id="n99" transform="rotate(8.39)"><text x="275">Nv_B1</text><circle cx="301" r="4"/></g>
<g id="n100" transform="rotate(11.23)"><text x="275">Dm_CG32843_CTDHR</text></g>
<g id="n101" transform="rotate(14.06)"><text x="275">Nv_B2</text><circle cx="301" r="4"/></g>
<g id="n102" transform="rotate(16.90)"><text x="275">Rp_KF446640_CTDH2BR</text></g>
<g id="n103" transform="rotate(19.73)"><text x="275">Dm_CG4395_orphanR</text></g>
<g id="n104" transform="rotate(22.57)"><text x="275">Dm_CG13758_PDFR</text></g>
<g id="n105" transform="rotate(25.40)"><text x="275">Rp_RPRC009680_PDFR</text></g>
<g id="n106" transform="rotate(28.24)"><text x="275">Nv_B3</text><circle cx="301" r="4"/></g>
<g id="n107" transform="rotate(31.07)"><text x="275">Dm_CG12370_CRFR</text></g>
<g id="n108" transform="rotate(33.91)"><text x="275">Dm_CG8422_CRFR</text></g>
<g id="n109" transform="rotate(36.74)"><text x="275">Rp_GL563066_CRF2R</text></g>
<g id="n110" transform="rotate(39.58)"><text x="275">Rp_contGL562334_CRF1R</text></g>
<g id="n111" transform="rotate(42.41)"><text x="275">Rp_RPRC000578_CRF4R</text></g>
<g id="n112" transform="rotate(45.25)"><text x="275">Rp_RPRC015285_CRF3R</text></g>
<g id="n113" transform="rotate(48.08)"><text x="275">Nv_B4</text><circle cx="301" r="4"/></g>
<g id="n114" transform="rotate(50.92)"><text x="275">Nv_B5</text><circle cx="301" r="4"/></g>
<g id="n115" transform="rotate(53.75)"><text x="275">Rp_RPRC011083_OrphanR</text></g>
<g id="n116" transform="rotate(56.58)"><text x="275">Nv_B6</text><circle cx="301" r="4"/></g>
<g id="n117" transform="rotate(59.42)"><text x="275">Nv_B7</text><circle cx="301" r="4"/></g>
<g id="n118" transform="rotate(62.25)"><text x="275">Dm_CG13575_orphanR</text></g>
<g id="n119" transform="rotate(65.09)"><text x="275">Nv_B8</text><circle cx="301" r="4"/></g>
<g id="n120" transform="rotate(67.92)"><text x="275">Dm_CG13995_orphanR</text></g>
<g id="n121" transform="rotate(70.76)"><text x="275">Nv_B9</text><circle cx="301" r="4"/></g>
<g id="n122" transform="rotate(73.59)"><text x="275">Dm_CG7665_CPR2_CPR1R</text></g>
<g id="n123" transform="rotate(76.43)"><text x="275">Rp_RPRC001663_BursR</text></g>
<g id="n124" transform="rotate(79.26)"><text x="275">Dm_CG6042_orphanR</text></g>
<g id="n125" transform="rotate(82.10)"><text x="275">Dm_CG4187_orphanR</text></g>
<g id="n126" transform="rotate(84.93)"><text x="275">Rhopr_RPRC014721_OrphanR</text></g>
<g id="n127" transform="rotate(87.77)"><text x="275">Nv_B10</text><circle cx="301" r="4"/></g>
</g>
</g>
<g id="clades" class="cl">
<text x="187" y="245">ETHR</text>
<text x="228" y="223.5">CAPAR</text>
<text x="305" y="245">PKR</text>
<text x="313" y="192">SKR</text>
<text x="352" y="160">RFaR</text>
<text x="377" y="168.5">RYaR</text>
<text x="403" y="184">KININ R</text>
<text x="427" y="168.5">SIFaR</text>
<text x="470" y="193">ATR</text>
<text x="458" y="241">trissinR</text>
<text x="485" y="278">TKR</text>
<text x="547" y="313">SNFR</text>
<text x="542" y="350">FGL-ASTR</text>
<text x="557" y="385.5">ASTR</text>
<text x="488" y="426">CT-DHR</text>
<text x="522" y="473.5">PDFR</text>
<text x="455" y="523">CRF-DHR</text>
<text x="410" y="576">orphanR</text>
<text x="317" y="607">CNMaR</text>
<text x="292" y="597">MSR</text>
<text x="213" y="562">PRLR</text>
<text x="170" y="570">MIPR</text>
<text x="133" y="508.5">orphanR</text>
<text x="117" y="428">CZR</text>
<text x="107" y="357">AKHR</text>
<text x="138" y="322">CCAPR</text>
<text x="173" y="299">CCHaR</text>
</g>
<g id="scale">
<line x1="325" y1="750" x2="360" y2="750" stroke="#333" stroke-width="1"/>
<text x="342.5" y="758" font-family="Liberation Sans, Arial, sans-serif" font-size="5px" fill="#333" text-anchor="middle">2.0</text>
</g>
</svg>
